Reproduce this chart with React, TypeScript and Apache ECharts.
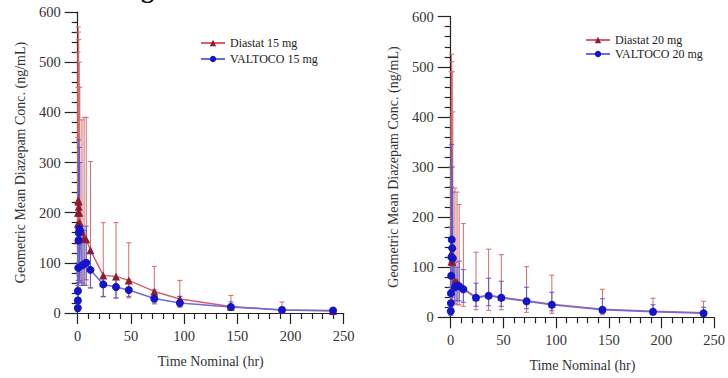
import React, { useEffect, useRef } from "react";
import * as echarts from "echarts";

// Nominal sampling times (hr)
const times = [0.083, 0.167, 0.25, 0.5, 0.75, 1, 1.5, 2, 4, 6, 8, 12, 24, 36, 48, 72, 96, 144, 192, 240];

// 15 mg panel
const diastat15 = [145, 178, 200, 225, 222, 212, 200, 180, 162, 148, 147, 125, 75, 73, 65, 43, 28, 13, 6, 4];
const diastat15Hi = [350, 450, 520, 570, 560, 545, 500, 450, 385, 390, 390, 302, 180, 180, 140, 93, 65, 35, 22, 8];
const diastat15Lo = [40, 55, 65, 80, 80, 75, 70, 65, 60, 58, 55, 50, 32, 30, 30, 18, 12, 5, 2, 1];
const valtoco15 = [10, 25, 44, 90, 145, 160, 168, 165, 95, 97, 100, 86, 57, 52, 46, 29, 20, 12, 6, 5];
const valtoco15Hi = [30, 60, 100, 200, 300, 345, 330, 300, 160, 165, 173, 123, 73, 70, 66, 46, 33, 22, 12, 8];
const valtoco15Lo = [3, 8, 15, 30, 50, 60, 65, 62, 55, 55, 66, 50, 33, 30, 33, 20, 12, 6, 3, 3];

// 20 mg panel
const diastat20 = [50, 85, 110, 125, 130, 128, 120, 110, 73, 71, 66, 58, 40, 44, 40, 33, 26, 16, 12, 9];
const diastat20Hi = [180, 300, 400, 490, 525, 510, 490, 410, 258, 250, 225, 187, 130, 136, 125, 101, 84, 56, 38, 32];
const diastat20Lo = [10, 20, 28, 30, 32, 32, 30, 30, 28, 25, 25, 22, 15, 14, 15, 10, 8, 5, 5, 4];
const valtoco20 = [12, 28, 48, 83, 120, 155, 138, 118, 60, 63, 62, 56, 39, 43, 39, 32, 25, 15, 11, 8];
const valtoco20Hi = [25, 60, 110, 180, 260, 345, 300, 250, 110, 100, 112, 95, 68, 78, 72, 60, 50, 37, 25, 20];
const valtoco20Lo = [4, 10, 18, 30, 40, 55, 50, 45, 33, 33, 33, 30, 22, 23, 22, 17, 13, 8, 5, 4];

const xTicks = { min: 0, max: 250, interval: 50 };
const yTicks = { min: 0, max: 600, interval: 100 };

const FONT = "'Liberation Serif', 'Times New Roman', serif";
const RED_MARK = "#8e1b2e";
const RED_LINE = "#d8606c";
const RED_BAR = "#d56a6a";
const BLUE_MARK = "#1414c8";
const BLUE_LINE = "#6b6bdc";
const BLUE_BAR = "#5a5ad0";

function pairs(v: number[]) {
  return times.map((t, i) => [t, v[i]]);
}
function bars(lo: number[], hi: number[]) {
  return times.map((t, i) => [t, lo[i], hi[i]]);
}

function errorSeries(name: string, lo: number[], hi: number[], color: string, idx: number) {
  return {
    type: "custom",
    name,
    xAxisIndex: idx,
    yAxisIndex: idx,
    silent: true,
    z: 1,
    data: bars(lo, hi),
    encode: { x: 0, y: [1, 2] },
    renderItem: (_p: any, api: any) => {
      const x = api.value(0);
      const lowP = api.coord([x, api.value(1)]);
      const highP = api.coord([x, api.value(2)]);
      const hw = 2.5;
      const style = { stroke: color, lineWidth: 1, fill: "none" };
      return {
        type: "group",
        children: [
          { type: "line", shape: { x1: highP[0], y1: highP[1], x2: lowP[0], y2: lowP[1] }, style },
          { type: "line", shape: { x1: highP[0] - hw, y1: highP[1], x2: highP[0] + hw, y2: highP[1] }, style },
          { type: "line", shape: { x1: lowP[0] - hw, y1: lowP[1], x2: lowP[0] + hw, y2: lowP[1] }, style },
        ],
      };
    },
  };
}

function lineSeries(name: string, v: number[], symbol: string, mark: string, line: string, idx: number, size: number) {
  return {
    type: "line",
    name,
    xAxisIndex: idx,
    yAxisIndex: idx,
    z: 3,
    data: pairs(v),
    symbol,
    symbolSize: size,
    showAllSymbol: true,
    lineStyle: { color: line, width: 1.5 },
    itemStyle: { color: mark, borderWidth: 0 },
  };
}

function xAxis(idx: number) {
  return {
    type: "value",
    gridIndex: idx,
    ...xTicks,
    name: "Time Nominal (hr)",
    nameLocation: "middle",
    nameGap: 41,
    nameTextStyle: { fontFamily: FONT, fontSize: 14, color: "#333" },
    axisLine: { show: true, onZero: false, lineStyle: { color: "#222", width: 1.2 } },
    axisTick: { show: true, inside: false, length: 11, lineStyle: { color: "#222", width: 1.2 } },
    minorTick: { show: true, splitNumber: 5, length: 6, lineStyle: { color: "#222", width: 1.2 } },
    axisLabel: { fontFamily: FONT, fontSize: 14.5, color: "#333", margin: 15 },
    splitLine: { show: false },
  };
}

function yAxis(idx: number) {
  return {
    type: "value",
    gridIndex: idx,
    ...yTicks,
    name: "Geometric Mean Diazepam Conc. (ng/mL)",
    nameLocation: "middle",
    nameGap: 50,
    nameTextStyle: { fontFamily: FONT, fontSize: 14, color: "#333" },
    axisLine: { show: true, onZero: false, lineStyle: { color: "#222", width: 1.2 } },
    axisTick: { show: true, inside: false, length: 13, lineStyle: { color: "#222", width: 1.2 } },
    minorTick: { show: true, splitNumber: 5, length: 6, lineStyle: { color: "#222", width: 1.2 } },
    axisLabel: { fontFamily: FONT, fontSize: 14.5, color: "#333", margin: 17 },
    splitLine: { show: false },
  };
}

function legend(names: string[], left: number, top: number, gap: number) {
  return {
    data: names,
    orient: "vertical",
    left,
    top,
    itemWidth: 24,
    itemHeight: 8,
    itemGap: gap,
    textStyle: { fontFamily: FONT, fontSize: 12, color: "#222" },
    selectedMode: false,
  };
}

export default function App() {
  const ref = useRef<HTMLDivElement>(null);
  useEffect(() => {
    if (!ref.current) return;
    const chart = echarts.init(ref.current, undefined, { renderer: "svg" });
    chart.setOption({
      animation: false,
      backgroundColor: "#ffffff",
      grid: [
        { left: 77.7, top: 12, width: 266, height: 301 },
        { left: 450.7, top: 16.7, width: 266.3, height: 300.6 },
      ],
      xAxis: [xAxis(0), xAxis(1)],
      yAxis: [yAxis(0), yAxis(1)],
      legend: [
        legend(["Diastat 15 mg", "VALTOCO 15 mg"], 195, 32, 4),
        legend(["Diastat 20 mg", "VALTOCO 20 mg"], 580, 29, 2),
      ],
      graphic: [
        {
          type: "text",
          left: 141,
          top: -24,
          style: { text: "g", font: `bold 26px ${FONT}`, fill: "#111" },
        },
      ],
      series: [
        errorSeries("Diastat 15 mg err", diastat15Lo, diastat15Hi, RED_BAR, 0),
        errorSeries("VALTOCO 15 mg err", valtoco15Lo, valtoco15Hi, BLUE_BAR, 0),
        lineSeries("Diastat 15 mg", diastat15, "triangle", RED_MARK, RED_LINE, 0, 8),
        lineSeries("VALTOCO 15 mg", valtoco15, "circle", BLUE_MARK, BLUE_LINE, 0, 8),
        errorSeries("Diastat 20 mg err", diastat20Lo, diastat20Hi, RED_BAR, 1),
        errorSeries("VALTOCO 20 mg err", valtoco20Lo, valtoco20Hi, BLUE_BAR, 1),
        lineSeries("Diastat 20 mg", diastat20, "triangle", RED_MARK, RED_LINE, 1, 7),
        lineSeries("VALTOCO 20 mg", valtoco20, "circle", BLUE_MARK, BLUE_LINE, 1, 8),
      ],
    });
    return () => chart.dispose();
  }, []);
  return (
    <div
      ref={ref}
      style={{ position: "absolute", left: 0, top: 0, width: 728, height: 378, background: "#fff" }}
    />
  );
}
